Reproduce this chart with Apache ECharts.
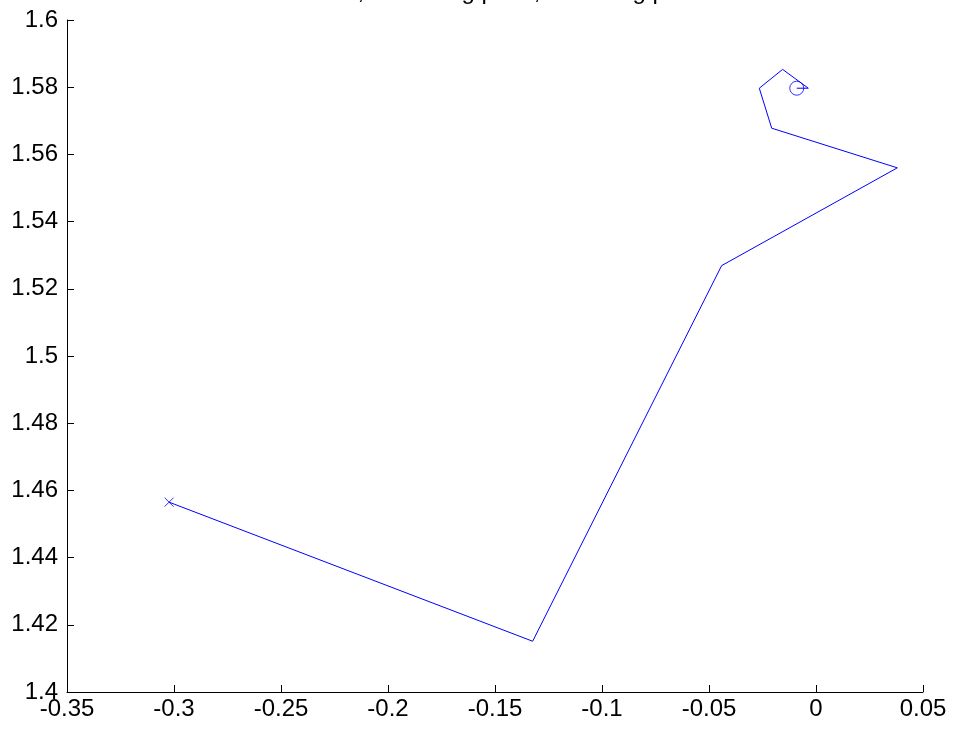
<!DOCTYPE html>
<html>
<head>
<meta charset="utf-8">
<script src="https://cdn.jsdelivr.net/npm/echarts@6/dist/echarts.min.js"></script>
<style>html,body{margin:0;padding:0;background:#fff;}#c{width:954px;height:737px;}</style>
</head>
<body>
<div id="c"></div>
<script>
var titleText = 'Motion, x: starting point, o: ending point';
var pathX = [-0.3023, -0.1324, -0.0441, 0.0380, -0.0207, -0.0265, -0.0156, -0.0036, -0.0090];
var pathY = [1.4565, 1.4151, 1.5269, 1.5560, 1.5678, 1.5797, 1.5853, 1.5797, 1.5797];
var startPoint = [-0.3023, 1.4565];
var endPoint = [-0.0090, 1.5797];
var xTicks = { min: -0.35, max: 0.05, step: 0.05 };
var yTicks = { min: 1.4, max: 1.6, step: 0.02 };

var chart = echarts.init(document.getElementById('c'), null, {renderer: 'canvas'});
var fontFam = 'Liberation Sans, Arial, sans-serif';
var pathData = pathX.map(function (x, i) { return [x, pathY[i]]; });
chart.setOption({
  animation: false,
  backgroundColor: '#fff',
  title: {
    text: titleText,
    left: 495,
    textAlign: 'center',
    top: -20,
    padding: 0,
    textStyle: { fontFamily: fontFam, fontSize: 24, fontWeight: 'normal', color: '#000' }
  },
  grid: { left: 67, right: 31, top: 20, bottom: 45, containLabel: false },
  xAxis: {
    type: 'value', min: xTicks.min, max: xTicks.max, interval: xTicks.step,
    axisLine: { onZero: false, lineStyle: { color: '#000', width: 1 } },
    axisTick: { inside: true, length: 7, lineStyle: { color: '#000' } },
    axisLabel: { margin: 5, fontFamily: fontFam, fontSize: 24, color: '#000', showMinLabel: true, showMaxLabel: true },
    splitLine: { show: false }
  },
  yAxis: {
    type: 'value', min: yTicks.min, max: yTicks.max, interval: yTicks.step,
    axisLine: { show: true, onZero: false, lineStyle: { color: '#000', width: 1 } },
    axisTick: { show: true, inside: true, length: 7, lineStyle: { color: '#000' } },
    axisLabel: { margin: 9, fontFamily: fontFam, fontSize: 24, color: '#000', showMinLabel: true, showMaxLabel: true },
    splitLine: { show: false }
  },
  series: [
    {
      type: 'line', data: pathData, showSymbol: false, symbol: 'none',
      lineStyle: { color: '#0000ff', width: 1 }, z: 2
    },
    {
      type: 'scatter', data: [startPoint],
      symbol: 'path://M0,0L10,10M10,0L0,10', symbolSize: 9,
      itemStyle: { color: 'none', borderColor: '#0000ff', borderWidth: 1 }, z: 3
    },
    {
      type: 'scatter', data: [endPoint],
      symbol: 'circle', symbolSize: 14,
      itemStyle: { color: 'none', borderColor: '#0000ff', borderWidth: 1 }, z: 3
    }
  ]
});
</script>
</body>
</html>
